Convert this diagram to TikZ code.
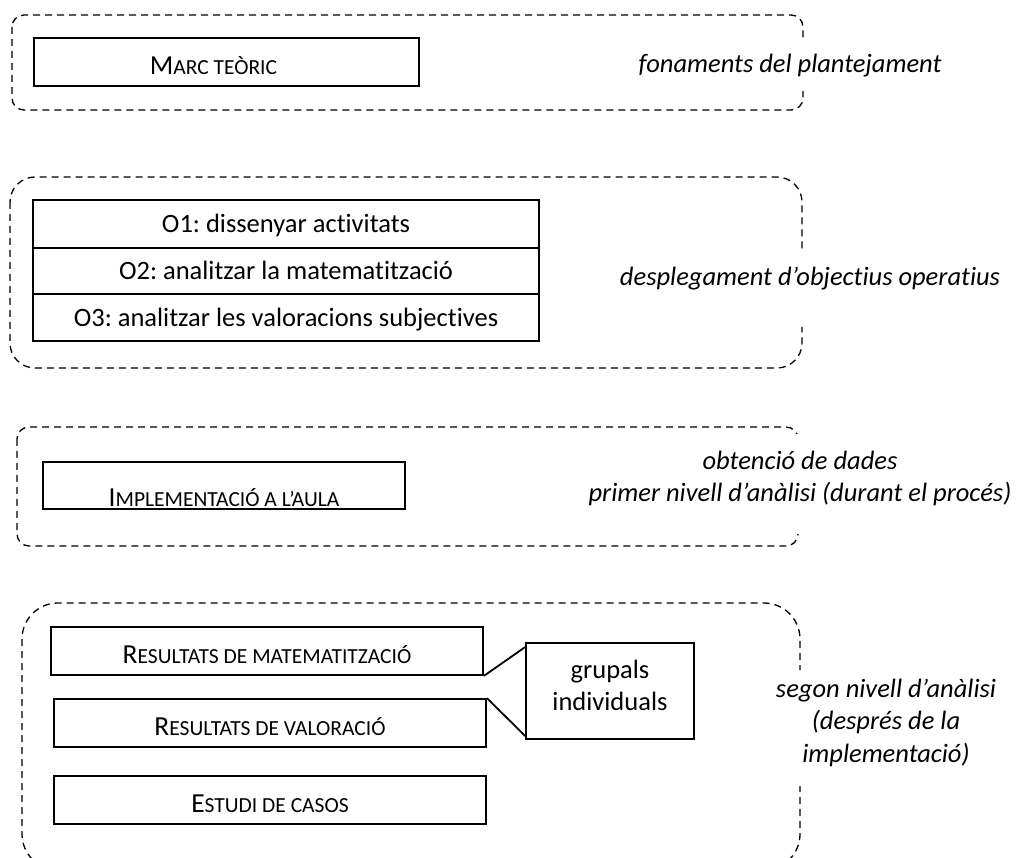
\documentclass[tikz,border=0pt]{standalone}
\usepackage{fontspec}
\setmainfont{Carlito}[Ligatures=CommonOff]
\usetikzlibrary{calc}
\frenchspacing
% small capitals imitated with a reduced size
\newcommand\smc[1]{{\fontsize{21.5}{24}\selectfont #1}}
\begin{document}
\begin{tikzpicture}[x=1pt,y=-1pt,
  frame/.style={draw, line width=1.3pt, dash pattern=on 7pt off 5pt, rounded corners=#1},
  box/.style={draw, line width=1.8pt, inner sep=0pt, font=\fontsize{26.5}{32}\selectfont,
              text height=17.1pt, text depth=0pt},
  capbox/.style={box, font=\fontsize{27.5}{32}\selectfont},
  note/.style={font=\fontsize{26.5}{32}\selectfont\itshape, inner sep=0pt},
  link/.style={draw, line width=1.8pt}]
\useasboundingbox (0,0) rectangle (1018,858);

% dashed group frames, each opened where its side note crosses it
\begin{scope}
  \clip (0,0) rectangle (780,858) (780,0) rectangle (1018,37.5) (780,91) rectangle (1018,858);
  \draw[frame=12] (12,15) rectangle (803,110);
\end{scope}
\begin{scope}
  \clip (0,0) rectangle (780,858) (780,0) rectangle (1018,250) (780,327) rectangle (1018,858);
  \draw[frame=25] (10,177) rectangle (802,368);
\end{scope}
\begin{scope}
  \clip (0,0) rectangle (780,858) (780,0) rectangle (1018,434) (780,534) rectangle (1018,858);
  \draw[frame=12] (17,427) rectangle (798,546);
\end{scope}
\begin{scope}
  \clip (0,0) rectangle (780,858) (780,0) rectangle (1018,670) (780,786) rectangle (1018,858);
  \draw[frame=36] (22,603) rectangle (800,870);
\end{scope}

% boxes
\node[capbox, minimum width=385pt, minimum height=48pt, text height=25pt]
  (marc) at (226.5,62) {M\smc{ARC TEÒRIC}\hspace*{26pt}};

\node[box, minimum width=506pt, minimum height=48pt] (o1) at (286,224) {O1: dissenyar activitats};
\node[box, minimum width=506pt, minimum height=46pt] (o2) at (286,271) {O2: analitzar la matematització};
\node[box, minimum width=506pt, minimum height=47pt] (o3) at (286,317.5) {O3: analitzar les valoracions subjectives};

\node[capbox, minimum width=362pt, minimum height=47pt, text height=43pt]
  (impl) at (224,485.5) {I\smc{MPLEMENTACIÓ A L’AULA}};

\node[capbox, minimum width=432pt, minimum height=48pt, text height=24pt]
  (rm) at (267,651) {R\smc{ESULTATS DE MATEMATITZACIÓ}};
\node[capbox, minimum width=432pt, minimum height=48pt, text height=24pt]
  (rv) at (270,723) {R\smc{ESULTATS DE VALORACIÓ}};
\node[capbox, minimum width=432pt, minimum height=48pt, text height=24pt]
  (ec) at (270,800) {E\smc{STUDI DE CASOS}};

\node[box, minimum width=168pt, minimum height=96pt, align=center,
      text height=47pt, text depth=9pt]
  (grp) at (610,691) {grupals\\individuals};

\draw[link] (rm.south east) -- ($(grp.north west)+(0,5)$);
\draw[link] (rv.north east) -- ($(grp.south west)+(0,-4)$);

% side notes
\node[note, anchor=base] (n1) at (790,73) {fonaments del plantejament};
\node[note, anchor=base] (n2) at (810,286) {desplegament d’objectius operatius};
\node[note, anchor=base, align=center] (n3) at (800,501)
  {obtenció de dades\\primer nivell d’anàlisi (durant el procés)};
\node[note, anchor=base, align=center, font=\fontsize{26.5}{32.5}\selectfont\itshape]
  (n4) at (886,762) {segon nivell d’anàlisi\\(després de la\\implementació)};
\end{tikzpicture}
\end{document}
